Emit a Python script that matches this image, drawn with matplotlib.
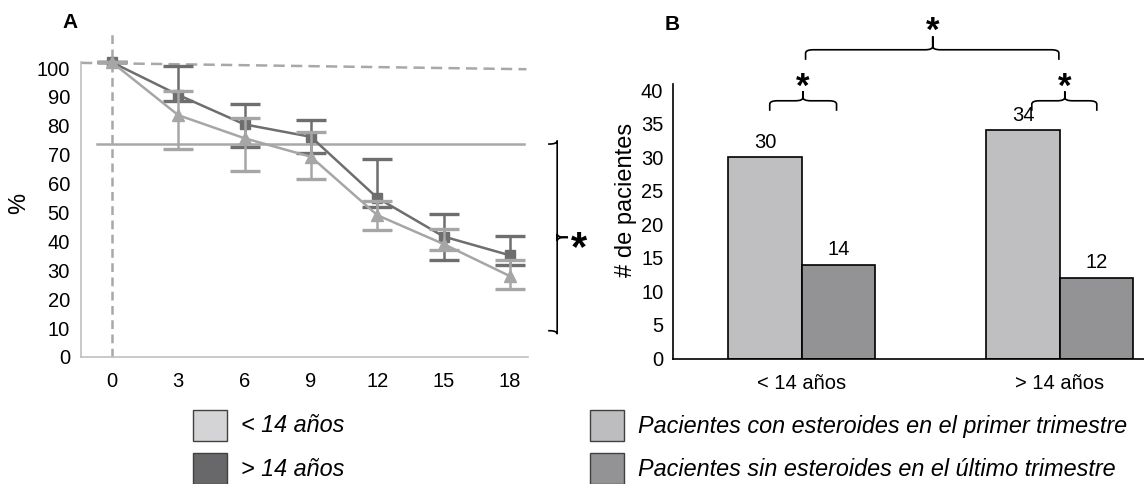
import numpy as np
import matplotlib
matplotlib.use('Agg')
import matplotlib.pyplot as plt
from matplotlib.path import Path
from matplotlib.patches import PathPatch, Rectangle
from matplotlib import font_manager

# panel A: % over time, two age groups
meses = [0, 3, 6, 9, 12, 15, 18]
mayor_media = [102, 90.7, 80.5, 76.2, 55.1, 41.7, 35.2]
mayor_alto = [102, 100.8, 87.5, 82.0, 68.5, 49.5, 41.9]
mayor_bajo = [102, 88.7, 72.7, 70.5, 52.0, 33.5, 32.0]
menor_media = [102, 83.7, 75.7, 69.3, 49.1, 39.1, 28.0]
menor_alto = [102, 92.1, 82.6, 78.0, 53.9, 44.2, 33.5]
menor_bajo = [102, 71.9, 64.4, 61.5, 44.0, 37.1, 23.4]
linea_ref = 73.7

# panel B: patient counts
grupos = ['< 14 años', '> 14 años']
con_esteroides = [30, 34]
sin_esteroides = [14, 12]

W, H = 1144, 484
names = {f.name for f in font_manager.fontManager.ttflist}
base = 'Liberation Sans' if 'Liberation Sans' in names else 'DejaVu Sans'
plt.rcParams['font.family'] = [base, 'DejaVu Sans']

fig = plt.figure(figsize=(W / 100, H / 100), dpi=100)

c_dark = '#6e6e70'
c_light = '#a6a6a6'
c_ref = '#a8a8a8'
fs = 14.5


def brace(ax, a0, a1, at, v_end, v_bar, v_tip, ra, rv, vertical=False):
    s = np.sign(v_tip - v_bar)
    pts = [(a0, v_end), (a0, v_bar - s * rv), (a0, v_bar), (a0 + ra, v_bar),
           (at - ra, v_bar), (at, v_bar), (at, v_bar + s * rv), (at, v_tip),
           (at, v_bar + s * rv), (at, v_bar), (at + ra, v_bar),
           (a1 - ra, v_bar), (a1, v_bar), (a1, v_bar - s * rv), (a1, v_end)]
    codes = [Path.MOVETO, Path.LINETO, Path.CURVE3, Path.CURVE3,
             Path.LINETO, Path.CURVE3, Path.CURVE3, Path.LINETO,
             Path.LINETO, Path.CURVE3, Path.CURVE3,
             Path.LINETO, Path.CURVE3, Path.CURVE3, Path.LINETO]
    if vertical:
        pts = [(v, a) for a, v in pts]
    p = PathPatch(Path(pts, codes), fill=False, lw=1.2, ec='black', clip_on=False)
    ax.add_patch(p)


# ---------------- panel A ----------------
axA = fig.add_axes([81 / W, 1 - 357 / H, (528 - 81) / W, (357 - 62) / H])
axA.set_xlim(-1.40, 18.82)
axA.set_ylim(0, 102.1)
for s in ['top', 'right']:
    axA.spines[s].set_visible(False)
for s in ['left', 'bottom']:
    axA.spines[s].set_color('#c0c0c0')
    axA.spines[s].set_linewidth(1.2)
axA.set_xticks(meses)
axA.set_yticks(range(0, 101, 10))
axA.tick_params(length=0, labelsize=fs, colors='black')
axA.tick_params(axis='y', pad=8)
axA.tick_params(axis='x', pad=11)
axA.set_ylabel('%', fontsize=17)
axA.yaxis.set_label_coords(-0.113, 0.52)

axA.plot([0, 0], [0, 112.9], color=c_ref, lw=1.8, ls=(0, (3.5, 2.2)), clip_on=False, zorder=1)
axA.plot([-1.4, 18.75], [101.8, 99.6], color=c_ref, lw=1.8, ls=(0, (4.5, 2.5)), clip_on=False, zorder=1)
axA.plot([-0.69, 18.64], [linea_ref, linea_ref], color=c_ref, lw=1.8, clip_on=False, zorder=1)

m = np.array(mayor_media)
axA.errorbar(meses, m, yerr=[m - np.array(mayor_bajo), np.array(mayor_alto) - m],
             color=c_dark, lw=1.8, marker='s', ms=7.5, capsize=11, capthick=2.4,
             elinewidth=1.8, clip_on=False, zorder=3)
n = np.array(menor_media)
axA.errorbar(meses, n, yerr=[n - np.array(menor_bajo), np.array(menor_alto) - n],
             color=c_light, lw=1.8, marker='^', ms=9, capsize=11, capthick=2.4,
             elinewidth=1.8, clip_on=False, zorder=4)

brace(axA, 73.7, 9.1, 41.4, 19.73, 20.14, 20.63, 1.2, 0.35, vertical=True)
axA.text(21.13, 37.5, '*', fontsize=30, fontweight='bold', ha='center', va='center')
fig.text(70 / W, 1 - 23 / H, 'A', fontsize=15, fontweight='bold', ha='center', va='center')

# ---------------- panel B ----------------
axB = fig.add_axes([673 / W, 1 - 358.5 / H, (1144 - 673) / W, (358.5 - 84) / H])
axB.set_xlim(-0.5, 1.326)
axB.set_ylim(0, 40.9)
for s in ['top', 'right']:
    axB.spines[s].set_visible(False)
for s in ['left', 'bottom']:
    axB.spines[s].set_linewidth(1.2)
x = np.arange(len(grupos))
w = 0.285
b1 = axB.bar(x - w / 2, con_esteroides, w, color='#bfbfc1', edgecolor='black', lw=1.2)
b2 = axB.bar(x + w / 2, sin_esteroides, w, color='#939396', edgecolor='black', lw=1.2)
axB.bar_label(b1, padding=4, fontsize=fs)
axB.bar_label(b2, padding=4, fontsize=fs)
axB.set_xticks(x)
axB.set_xticklabels(grupos)
axB.set_yticks(range(0, 41, 5))
axB.tick_params(length=0, labelsize=fs)
axB.tick_params(axis='y', pad=7)
axB.tick_params(axis='x', pad=11)
axB.set_ylabel('# de pacientes', fontsize=17)
axB.yaxis.set_label_coords(-0.077, 0.577)

brace(axB, -0.125, 0.134, 0.004, 36.9, 38.4, 39.8, 0.03, 0.5)
brace(axB, 0.891, 1.143, 1.019, 36.9, 38.4, 39.8, 0.03, 0.5)
brace(axB, 0.014, 0.996, 0.507, 44.5, 46.0, 48.0, 0.03, 0.5)
for xs, ys in [(0.004, 40.4), (1.019, 40.4), (0.507, 48.7)]:
    axB.text(xs, ys, '*', fontsize=25, fontweight='bold', ha='center', va='center', clip_on=False)
fig.text(672 / W, 1 - 24 / H, 'B', fontsize=15, fontweight='bold', ha='center', va='center')

# ---------------- legends ----------------
leg = [(193, 410, '#d4d4d6', '< 14 años'), (193, 453, '#68686a', '> 14 años'),
       (590, 410, '#bdbdbf', 'Pacientes con esteroides en el primer trimestre'),
       (590, 453, '#939396', 'Pacientes sin esteroides en el último trimestre')]
for px, py, col, lab in leg:
    fig.patches.append(Rectangle((px / W, 1 - (py + 31) / H), 34 / W, 31 / H,
                                 transform=fig.transFigure, facecolor=col,
                                 edgecolor='#404040', lw=1.0))
    fig.text((px + 48) / W, 1 - (py + 16) / H, lab, fontsize=16.8, style='italic',
             ha='left', va='center')

plt.savefig('out.png', dpi=100)
